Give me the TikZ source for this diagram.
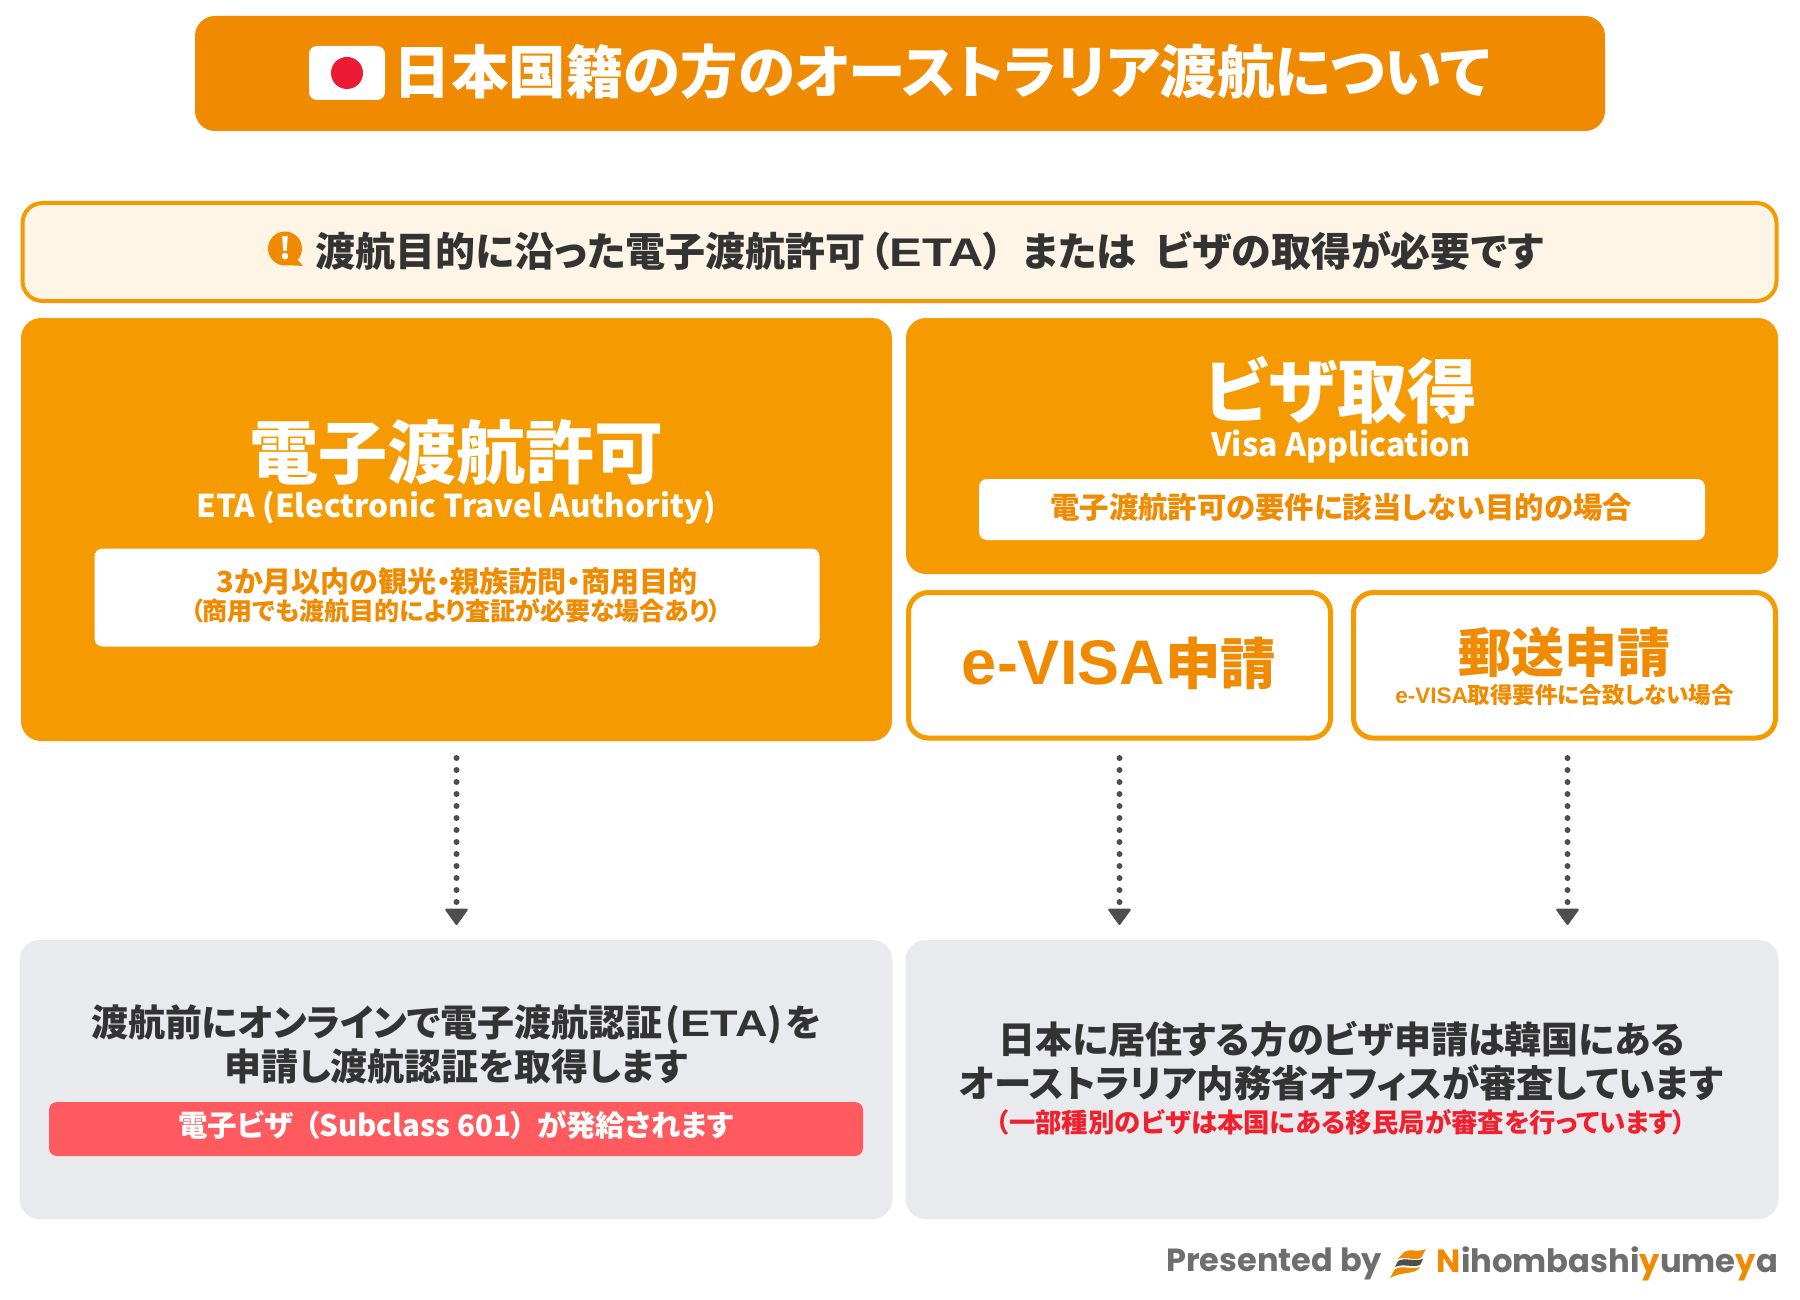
\documentclass[tikz,border=0pt]{standalone}
\usepackage{fontspec}
\usepackage{graphicx}
\setmainfont{Noto Sans CJK JP}[RawFeature={+palt}]
\newfontfamily\popfont{Poppins}
\newfontfamily\lat{Liberation Sans}
\usetikzlibrary{arrows.meta}
\definecolor{naranja}{HTML}{F08A00}
\definecolor{panelor}{HTML}{F59A00}
\definecolor{crema}{HTML}{FEF5E6}
\definecolor{gris}{HTML}{E9EAEE}
\definecolor{tinta}{HTML}{333333}
\definecolor{rojo}{HTML}{FF5A5F}
\definecolor{rojotxt}{HTML}{F0212F}
\definecolor{firma}{HTML}{6E6E6E}
\definecolor{flechac}{HTML}{4D4D4D}
\definecolor{solc}{HTML}{ED1A33}
\newcommand{\fs}[1]{\fontsize{#1}{#1}\selectfont\bfseries}
\newcommand{\anchoeta}{\scalebox{1.22}[1]{\lat ETA}}
\tikzset{
    panel/.style={rectangle, rounded corners=20pt, inner sep=0pt, outer sep=0pt, fill=panelor},
    marco/.style={rectangle, rounded corners=20pt, inner sep=0pt, outer sep=0pt, draw=panelor, line width=5pt, fill=white},
    blanco/.style={rectangle, rounded corners=8pt, inner sep=0pt, outer sep=0pt, fill=white},
    gbox/.style={rectangle, rounded corners=20pt, inner sep=0pt, outer sep=0pt, fill=gris},
    txt/.style={inner sep=0pt, outer sep=0pt, anchor=center},
    flecha/.style={draw=flechac, line width=6pt, line cap=round, dash pattern=on 0pt off 12pt, shorten <=17pt, shorten >=15pt, -{Triangle[round,width=24pt,length=17pt,line width=2pt,fill=flechac]}}
}
\begin{document}
\begin{tikzpicture}[x=1pt,y=-1pt]
    \useasboundingbox (0,0) rectangle (1800,1300);

    % titulo
    \node[panel, fill=naranja, minimum width=1410pt, minimum height=115pt] (titulo) at (900,73.5) {};
    \node[blanco, minimum width=76pt, minimum height=54pt] (bandera) at (347,73) {};
    \node[circle, fill=solc, minimum size=32pt, inner sep=0pt] (sol) at (347,73) {};
    \node[txt, text=white] (titulotxt) at (942,72) {\fs{57.5}日本国籍の方のオーストラリア渡航について};

    % aviso
    \node[marco, fill=crema, line width=4pt, minimum width=1754pt, minimum height=98pt] (aviso) at (899.5,252) {};
    \node[circle, fill=naranja, minimum size=34pt, inner sep=0pt] (alerta) at (285,248.5) {};
    \fill[naranja] (294,256) -- (303,266) -- (286,265) --cycle;
    \node[txt, text=white] (alertatxt) at (285,248) {\fs{30}!};
    \node[txt, text=tinta] (avisotxt) at (929.5,251) {\fs{40}渡航目的に沿った電子渡航許可\hspace{4pt}（\anchoeta）\hspace{19pt}または\hspace{19pt}ビザの取得が必要です};

    % rectangulo eta
    \node[panel, minimum width=871pt, minimum height=423pt] (eta) at (456.5,529.5) {};
    \node[txt, text=white] (etatit) at (456,452) {\fs{69}電子渡航許可};
    \node[txt, text=white] (etasub) at (456,508) {\fs{31.4}ETA (Electronic Travel Authority)};
    \node[blanco, minimum width=725pt, minimum height=98pt] (etacaja) at (457,597.5) {};
    \node[txt, text=naranja] (etaa) at (457,581) {\fs{29}3か月以内の観光・親族訪問・商用目的};
    \node[txt, text=naranja] (etab) at (456,611) {\fs{25}（商用でも渡航目的により査証が必要な場合あり）};

    % rectangulo visa
    \node[panel, minimum width=872pt, minimum height=256pt] (visa) at (1342,446) {};
    \node[txt, text=white] (visatit) at (1341,390) {\fs{70}ビザ取得};
    \node[txt, text=white] (visasub) at (1341,447) {\fs{32}Visa Application};
    \node[blanco, minimum width=726pt, minimum height=61pt] (visacaja) at (1342,509.5) {};
    \node[txt, text=naranja] (visatxt) at (1341,507) {\fs{29.4}電子渡航許可の要件に該当しない目的の場合};

    % evisa y correo
    \node[marco, minimum width=422pt, minimum height=145.5pt] (evisa) at (1119.5,665.3) {};
    \node[txt, text=naranja] (evisatxt) at (1119,663) {\fs{63}{\lat e-VISA}\fontsize{55.5}{55.5}\selectfont 申請};
    \node[marco, minimum width=422pt, minimum height=145.5pt] (correo) at (1564.5,665.3) {};
    \node[txt, text=naranja] (correotit) at (1564.5,652) {\fs{53}郵送申請};
    \node[txt, text=naranja] (correosub) at (1564.5,695) {\fs{22.5}{\lat e-VISA}取得要件に合致しない場合};

    % resultados
    \node[gbox, minimum width=873pt, minimum height=279pt] (resa) at (456,1079.5) {};
    \node[gbox, minimum width=873pt, minimum height=279pt] (resb) at (1342,1079.5) {};

    \node[txt, text=tinta] (resaa) at (456,1024) {\fs{37}渡航前にオンラインで電子渡航認証\hspace{3pt}(\anchoeta)\hspace{3pt}を};
    \node[txt, text=tinta] (resab) at (456,1066.5) {\fs{37}申請し渡航認証を取得します};
    \node[blanco, fill=rojo, minimum width=814pt, minimum height=54pt] (rojobar) at (456,1129) {};
    \node[txt, text=white] (rojotxt) at (456,1125) {\fs{29.5}電子ビザ\hspace{11pt}（Subclass 601）\hspace{11pt}が発給されます};

    \node[txt, text=tinta] (resba) at (1342,1039) {\fs{37}日本に居住する方のビザ申請は韓国にある};
    \node[txt, text=tinta] (resbb) at (1341,1083) {\fs{37.4}オーストラリア内務省オフィスが審査しています};
    \node[txt, text=rojotxt] (resbc) at (1341,1122) {\fs{26.4}（一部種別のビザは本国にある移民局が審査を行っています）};

    % flechas
    \draw[flecha] (eta.south) -- (eta.south |- resa.north);
    \draw[flecha, shorten <=20pt] (evisa.south) -- (evisa.south |- resb.north);
    \draw[flecha, shorten <=20pt] ([xshift=3pt]correo.south) -- ([xshift=3pt]correo.south |- resb.north);

    % firma
    \node[txt, anchor=east, text=firma] (firmaa) at (1382,1264) {\popfont\fs{32}Presented by};
    \fill[naranja] (1404,1252) .. controls (1410,1248) and (1418,1253) .. (1426,1249) -- (1421,1258) .. controls (1414,1261) and (1405,1256) .. (1398,1259) --cycle;
    \fill[flechac] (1398,1261) .. controls (1405,1257) and (1414,1262) .. (1423,1259) -- (1420,1265) .. controls (1412,1268) and (1403,1263) .. (1395,1267) --cycle;
    \fill[naranja] (1395,1269) .. controls (1403,1265) and (1412,1270) .. (1420,1267) .. controls (1416,1275) and (1402,1271) .. (1390,1278) --cycle;
    \node[txt, anchor=east, text=firma] (firmab) at (1778,1264) {\popfont\fs{32.2}\textcolor{naranja}{N}ihombashi\textcolor{naranja}{y}ume\textcolor{naranja}{y}a};
\end{tikzpicture}
\end{document}
